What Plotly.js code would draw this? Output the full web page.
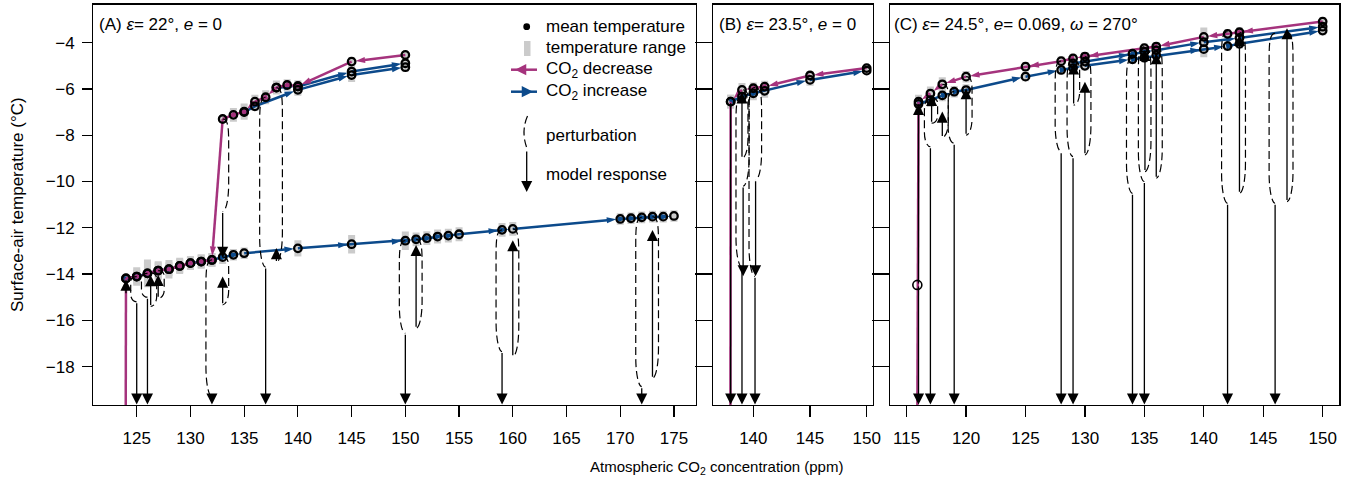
<!DOCTYPE html>
<html><head><meta charset="utf-8">
<script src="https://cdn.plot.ly/plotly-3.0.1.min.js"></script>
<style>html,body{margin:0;padding:0;background:#fff}#chart{width:1351px;height:482px}</style>
</head><body><div id="chart"></div>
<script>
// ================= DATA =================
// Panel A  (epsilon = 22°, e = 0)
const A_decX = [150,145,140,139,138,137,136,135,134,133,132,131,130,129,128,127,126,125,124,123.9];
const A_decT = [-4.53,-4.82,-5.87,-5.83,-5.94,-6.36,-6.55,-6.98,-7.12,-7.30,-13.39,-13.46,-13.53,-13.65,-13.79,-13.85,-13.97,-14.11,-14.18,-40];
const A_decR = [0.15,0.2,0.25,0.25,0.3,0.3,0.3,0.35,0.3,0.15,0.3,0.3,0.3,0.35,0.4,0.4,0.6,0.4,0.15,0];
const A_incX = [124,125,126,127,128,129,130,131,132,133,134,135,140,145,150,151,152,153,154,155,159,160,170,171,172,173,174,175];
const A_incT = [-14.2,-14.11,-13.97,-13.85,-13.79,-13.65,-13.53,-13.46,-13.39,-13.27,-13.17,-13.1,-12.89,-12.71,-12.56,-12.5,-12.45,-12.38,-12.34,-12.28,-12.09,-12.05,-11.62,-11.59,-11.55,-11.52,-11.52,-11.49];
const A_incR = [0.15,0.3,0.5,0.35,0.3,0.3,0.3,0.3,0.3,0.3,0.25,0.25,0.35,0.4,0.4,0.3,0.3,0.3,0.3,0.3,0.3,0.3,0.25,0.25,0.25,0.25,0.25,0.25];
const A_up1X = [135,136,140,145,150];
const A_up1T = [-7.0,-6.75,-6.04,-5.40,-5.06];
const A_up1R = [0.2,0.2,0.25,0.3,0.2];
const A_up2X = [138,140,145,150];
const A_up2T = [-5.94,-5.9,-5.25,-4.89];
const A_up2R = [0.2,0.2,0.3,0.2];
// experiments: CO2, start temperature, perturbed temperature, end temperature (-40 = snowball)
const A_expX     = [124,125,126,126.3,127,132,133,133,137,138,150,151,159,160,172,173];
const A_expStart = [-14.9,-14.11,-13.97,-13.95,-13.85,-13.39,-7.30,-13.27,-6.36,-5.94,-12.56,-12.5,-12.09,-12.05,-11.55,-11.52];
const A_expPert  = [-14.9,-15.2,-15.0,-15.4,-15.05,-19.3,-11.3,-15.33,-13.7,-13.5,-16.56,-16.34,-17.35,-17.57,-18.87,-18.5];
const A_expEnd   = [-14.25,-40,-40,-14.05,-14.04,-40,-13.3,-14.11,-40,-12.88,-40,-12.74,-40,-12.54,-40,-12.1];

// Panel B  (epsilon = 23.5°, e = 0)
const B_decX = [150,145,141,140,139,138,137.95];
const B_decT = [-5.1,-5.42,-5.9,-5.97,-6.04,-6.55,-40];
const B_decR = [0.15,0.2,0.25,0.25,0.3,0.3,0];
const B_incX = [138,139,140,141,145,150];
const B_incT = [-6.55,-6.33,-6.19,-6.08,-5.61,-5.21];
const B_incR = [0.3,0.3,0.3,0.3,0.25,0.15];
const B_expX     = [138,139,139,139.1,140.2,140.15];
const B_expStart = [-6.55,-6.3,-6.15,-6.04,-5.95,-5.93];
const B_expPert  = [-6.55,-13.7,-9.0,-10.2,-9.93,-14.1];
const B_expEnd   = [-40,-40,-6.15,-14.1,-14.1,-40];

// Panel C  (epsilon = 24.5°, e = 0.069, omega = 270°)
const C_decX = [150,143,142,140,136,135,130,129,128,125,120,118,117,116,115.75];
const C_decT = [-3.09,-3.55,-3.62,-3.75,-4.17,-4.24,-4.6,-4.68,-4.8,-5.04,-5.47,-5.8,-6.2,-6.55,-40];
const C_decR = [0.2,0.2,0.2,0.4,0.2,0.2,0.2,0.2,0.2,0.2,0.25,0.3,0.3,0.3,0];
const C_inc1X = [116,117,118,119,120,125,128,129,130,134,135,136,140,142,143,150];
const C_inc1T = [-6.65,-6.48,-6.28,-6.12,-6.05,-5.47,-5.18,-5.1,-5.0,-4.72,-4.65,-4.55,-4.28,-4.15,-4.05,-3.48];
const C_inc1R = [0.3,0.3,0.25,0.25,0.25,0.2,0.2,0.2,0.2,0.2,0.2,0.2,0.35,0.2,0.2,0.2];
const C_inc2X = [129,130,134,135,136,140,143,150];
const C_inc2T = [-4.9,-4.82,-4.48,-4.4,-4.33,-3.98,-3.8,-3.31];
const C_inc2R = [0.2,0.2,0.2,0.2,0.2,0.2,0.2,0.2];
const C_openX = [115.9];
const C_openT = [-14.47];
const C_expX     = [116,116,117,117.1,118,119,120,128,129,129.05,130,134,135,135.05,136,142,143,146,147];
const C_expStart = [-14.47,-14.47,-6.45,-6.4,-5.8,-6.12,-5.47,-4.8,-4.75,-4.8,-4.6,-4.67,-4.17,-4.2,-4.17,-3.52,-3.55,-3.6,-3.55];
const C_expPert  = [-14.47,-14.47,-8.5,-7.48,-8.1,-8.35,-8.0,-8.71,-8.93,-6.7,-8.85,-10.51,-10.0,-9.57,-9.86,-10.94,-10.51,-10.94,-10.87];
const C_expEnd   = [-6.65,-40,-40,-6.26,-6.98,-40,-5.97,-40,-40,-4.9,-5.69,-40,-40,-4.32,-4.46,-40,-3.67,-40,-3.38];

// tick labels
const A_ticks = [125,130,135,140,145,150,155,160,165,170,175];
const B_ticks = [140,145,150];
const C_ticks = [115,120,125,130,135,140,145,150];
const T_ticks = [-18,-16,-14,-12,-10,-8,-6,-4];

// ================= STYLE / LAYOUT =================
const W = 1351, H = 482;
const PINK = '#a5337d', BLUE = '#0c4a8b', GRAY = '#cbcbcb';
const FONT = 'Liberation Sans, Arial, Helvetica, sans-serif';
const FS = 17;
const Y_MIN = -19.66, Y_MAX = -2.36;
const yDom = [1 - 405/H, 1 - 4.7/H];
const ARROW_SIZE = 1.7;

const panels = [
  {xa:'x',  ya:'y',  dom:[93.3/W, 696/W],   range:[120.96,177.05], ticks:A_ticks,
   dec:[A_decX,A_decT,A_decR], inc:[[A_incX,A_incT,A_incR],[A_up1X,A_up1T,A_up1R],[A_up2X,A_up2T,A_up2R]],
   exp:[A_expX,A_expStart,A_expPert,A_expEnd]},
  {xa:'x2', ya:'y2', dom:[713.3/W, 872.7/W], range:[136.47,150.53], ticks:B_ticks,
   dec:[B_decX,B_decT,B_decR], inc:[[B_incX,B_incT,B_incR]],
   exp:[B_expX,B_expStart,B_expPert,B_expEnd]},
  {xa:'x3', ya:'y3', dom:[890/W, 1339.3/W], range:[113.6,151.4], ticks:C_ticks,
   dec:[C_decX,C_decT,C_decR], inc:[[C_inc1X,C_inc1T,C_inc1R],[C_inc2X,C_inc2T,C_inc2R]],
   exp:[C_expX,C_expStart,C_expPert,C_expEnd]}
];

const traces = [], shapes = [], annotations = [];

function rangeTrace(p, s) {
  return {type:'scatter', mode:'markers', x:s[0], y:s[1], xaxis:p.xa, yaxis:p.ya,
    marker:{size:1, opacity:0}, hoverinfo:'skip', showlegend:false,
    error_y:{type:'data', array:s[2], visible:true, thickness:7, width:0, color:GRAY}};
}
function lineTrace(p, s, color) {
  return {type:'scatter', mode:'lines+markers', x:s[0], y:s[1], xaxis:p.xa, yaxis:p.ya,
    line:{color:color, width:2.5}, showlegend:false, hoverinfo:'skip',
    marker:{symbol:'arrow', angleref:'previous', size:10, standoff:4, color:color, line:{width:0}}};
}
function dotTrace(p, s) {
  return {type:'scatter', mode:'markers', x:s[0], y:s[1], xaxis:p.xa, yaxis:p.ya,
    showlegend:false, hoverinfo:'skip',
    marker:{symbol:'circle-open', size:7.5, color:'#000', line:{width:2.3, color:'#000'}}};
}

panels.forEach(p => { [p.dec].concat(p.inc).forEach(s => traces.push(rangeTrace(p, s))); });
panels.forEach(p => { p.inc.forEach(s => traces.push(lineTrace(p, s, BLUE))); traces.push(lineTrace(p, p.dec, PINK)); });
panels.forEach(p => { [p.dec].concat(p.inc).forEach(s => traces.push(dotTrace(p, s))); });
traces.push({type:'scatter', mode:'markers', x:C_openX, y:C_openT, xaxis:'x3', yaxis:'y3', showlegend:false,
  hoverinfo:'skip', marker:{symbol:'circle-open', size:9, color:'#000', line:{width:1.6, color:'#000'}}});

// perturbation loops (dashed) and model responses (arrows)
const BULGE_PX = 6;
panels.forEach(p => {
  const ppmPerPx = (p.range[1]-p.range[0]) / ((p.dom[1]-p.dom[0]) * W);
  const b = BULGE_PX * ppmPerPx;
  const [X, S, P, E] = p.exp;
  X.forEach((x, i) => {
    const y0 = S[i], y1 = P[i], ye = E[i];
    const snow = ye <= Y_MIN;
    const side = snow ? -1 : 1;
    const h = y0 - y1;
    if (h > 0.05) {
      const c = Math.min(0.3*h, 1.3);
      const xb = x + side*b;
      const f = v => v.toFixed(4);
      const path = `M ${f(x)},${f(y0)} C ${f(xb)},${f(y0)} ${f(xb)},${f(y0-c*0.4)} ${f(xb)},${f(y0-c)} L ${f(xb)},${f(y1+c)} C ${f(xb)},${f(y1+c*0.4)} ${f(x+side*b*0.5)},${f(y1)} ${f(x)},${f(y1)}`;
      shapes.push({type:'path', xref:p.xa, yref:p.ya, path:path, line:{color:'#000', width:1.2, dash:'8px,4px'}});
    }
    const head = Math.max(ye, Y_MIN + 0.02);
    const tail = Math.max(y1, Y_MIN + 0.02);
    annotations.push({xref:p.xa, yref:p.ya, axref:p.xa, ayref:p.ya, x:x, y:head, ax:x, ay:tail,
      text:'', showarrow:true, arrowhead:2, arrowsize:ARROW_SIZE, arrowwidth:1.3, arrowcolor:'#000', standoff:0});
  });
});

// axes
const layout = {
  width:W, height:H, margin:{l:0,r:0,t:0,b:0},
  paper_bgcolor:'#fff', plot_bgcolor:'#fff',
  font:{family:FONT, size:FS, color:'#000'},
  showlegend:false, shapes:shapes, annotations:annotations
};
panels.forEach((p, k) => {
  const n = k === 0 ? '' : String(k+1);
  layout['xaxis'+n] = {domain:p.dom, range:p.range, tickvals:p.ticks, ticktext:p.ticks.map(String),
    ticks:'outside', ticklen:11, tickwidth:1.2, tickcolor:'#000', showline:true, linecolor:'#000', linewidth:1.3,
    mirror:true, showgrid:false, zeroline:false, anchor:'y'+n, tickfont:{size:FS, family:FONT, color:'#000'},
    ticklabelstandoff:6, fixedrange:true};
  layout['yaxis'+n] = {domain:yDom, range:[Y_MIN, Y_MAX], tickvals:T_ticks,
    ticks:'outside', ticklen: k === 0 ? 10 : 17, tickwidth:1.2, tickcolor:'#000', showline:true, linecolor:'#000', linewidth:1.3,
    mirror:true, showgrid:false, zeroline:false, anchor:'x'+n, showticklabels: k === 0,
    tickfont:{size:FS, family:FONT, color:'#000'}, ticklabelstandoff:4, fixedrange:true};
});

// helpers for paper coordinates
const px = v => v / W, py = v => 1 - v / H;
function txt(x, y, t, extra) {
  annotations.push(Object.assign({xref:'paper', yref:'paper', x:px(x), y:py(y), text:t, showarrow:false,
    xanchor:'left', yanchor:'middle', font:{size:FS, family:FONT, color:'#000'}}, extra||{}));
}
// panel titles
txt(97, 24, '(A) <i>ε</i>= 22°, <i>e</i> = 0');
txt(717, 24, '(B) <i>ε</i>= 23.5°, <i>e</i> = 0');
txt(892, 24, '(C) <i>ε</i>= 24.5°, <i>e</i>= 0.069, <i>ω</i> = 270°');
// axis titles
txt(716, 467, 'Atmospheric CO<sub>2</sub> concentration (ppm)', {xanchor:'center', font:{size:15, family:FONT, color:'#000'}});
txt(17, 205, 'Surface-air temperature (°C)', {xanchor:'center', textangle:-90});

// legend
shapes.push({type:'circle', xref:'paper', yref:'paper', x0:px(523.3), x1:px(530.1), y0:py(30.1), y1:py(23.3), fillcolor:'#000', line:{width:0}});
shapes.push({type:'rect', xref:'paper', yref:'paper', x0:px(524), x1:px(530.5), y0:py(56), y1:py(41), fillcolor:GRAY, line:{width:0}});
shapes.push({type:'line', xref:'paper', yref:'paper', x0:px(511), x1:px(537), y0:py(69.7), y1:py(69.7), line:{color:PINK, width:2.5}});
annotations.push({xref:'paper', yref:'paper', x:px(515), y:py(69.7), ax:10, ay:0, text:'', showarrow:true, arrowhead:2, arrowsize:0.9, arrowwidth:2.5, arrowcolor:PINK});
shapes.push({type:'line', xref:'paper', yref:'paper', x0:px(511), x1:px(537), y0:py(91.7), y1:py(91.7), line:{color:BLUE, width:2.5}});
annotations.push({xref:'paper', yref:'paper', x:px(533), y:py(91.7), ax:-10, ay:0, text:'', showarrow:true, arrowhead:2, arrowsize:0.9, arrowwidth:2.5, arrowcolor:BLUE});
shapes.push({type:'path', xref:'paper', yref:'paper',
  path:`M ${px(527.5)},${py(116)} Q ${px(521)},${py(131)} ${px(526.5)},${py(147)}`, line:{color:'#000', width:1.2, dash:'8px,4px'}});
annotations.push({xref:'paper', yref:'paper', x:px(526.7), y:py(192), ax:0, ay:-42, text:'', showarrow:true, arrowhead:2, arrowsize:ARROW_SIZE, arrowwidth:1.3, arrowcolor:'#000'});
txt(544, 26.5, 'mean temperature');
txt(544, 48, 'temperature range');
txt(544, 70, 'CO<sub>2</sub> decrease');
txt(544, 92, 'CO<sub>2</sub> increase');
txt(544, 135, 'perturbation');
txt(544, 174, 'model response');

Plotly.newPlot('chart', traces, layout, {displayModeBar:false, staticPlot:true});
</script></body></html>
